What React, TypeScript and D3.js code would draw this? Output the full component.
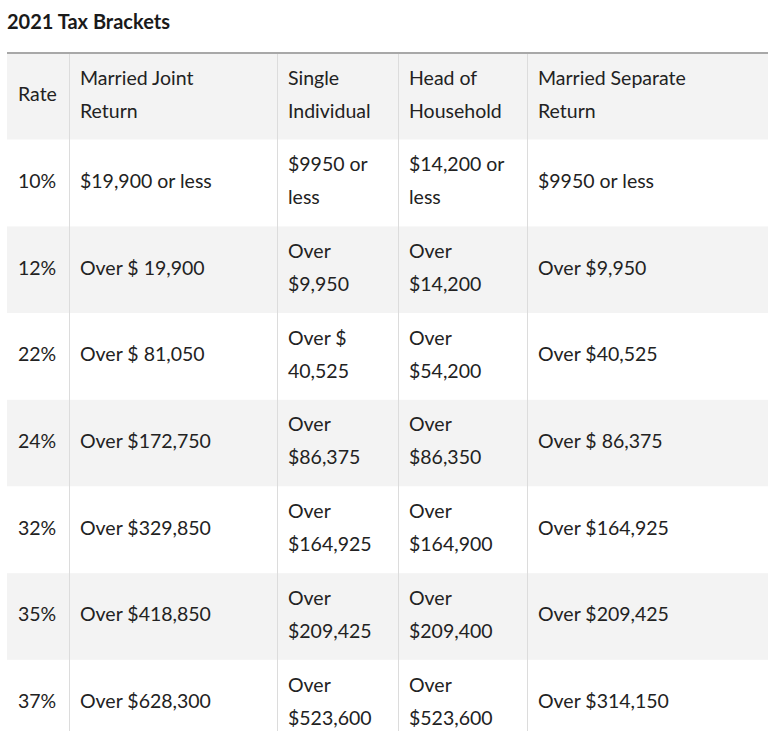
import React, { useEffect, useRef } from 'react';
import * as d3 from 'd3';

// table content ("\n" marks where the cell text wraps)
const title = '2021 Tax Brackets';
const headers = ['Rate', 'Married Joint\nReturn', 'Single\nIndividual', 'Head of\nHousehold', 'Married Separate\nReturn'];
const rates = ['10%', '12%', '22%', '24%', '32%', '35%', '37%'];
const marriedJoint = ['$19,900 or less', 'Over $ 19,900', 'Over $ 81,050', 'Over $172,750', 'Over $329,850', 'Over $418,850', 'Over $628,300'];
const singleIndividual = ['$9950 or\nless', 'Over\n$9,950', 'Over $\n40,525', 'Over\n$86,375', 'Over\n$164,925', 'Over\n$209,425', 'Over\n$523,600'];
const headOfHousehold = ['$14,200 or\nless', 'Over\n$14,200', 'Over\n$54,200', 'Over\n$86,350', 'Over\n$164,900', 'Over\n$209,400', 'Over\n$523,600'];
const marriedSeparate = ['$9950 or less', 'Over $9,950', 'Over $40,525', 'Over $ 86,375', 'Over $164,925', 'Over $209,425', 'Over $314,150'];

const App = () => {
  const ref = useRef<SVGSVGElement>(null);

  useEffect(() => {
    const svg = d3.select(ref.current);
    svg.selectAll('*').remove();

    const width = 768;
    const height = 731;
    const left = 7;
    const right = 768;
    const top = 53;
    const colEdges = [left, 69, 277, 398, 527, right];
    const fontFamily = 'Lato, "Noto Sans", sans-serif';
    const lineHeight = 33;

    const rows = rates.map((r, i) => [r, marriedJoint[i], singleIndividual[i], headOfHousehold[i], marriedSeparate[i]]);
    const allRows = [headers, ...rows];

    const y = d3
      .scaleBand<number>()
      .domain(d3.range(allRows.length))
      .range([top, top + 86.7 * allRows.length])
      .padding(0);

    svg.attr('width', width).attr('height', height);

    svg
      .append('text')
      .attr('x', left)
      .attr('y', 29)
      .attr('font-family', fontFamily)
      .attr('font-size', 20)
      .attr('font-weight', 700)
      .attr('fill', '#1a1a1a')
      .text(title);

    // row backgrounds
    svg
      .selectAll('rect.row')
      .data(allRows)
      .join('rect')
      .attr('class', 'row')
      .attr('x', left)
      .attr('y', (_, i) => y(i)!)
      .attr('width', right - left)
      .attr('height', y.bandwidth())
      .attr('fill', (_, i) => (i % 2 === 0 ? '#f3f3f3' : '#ffffff'));

    // column separators
    svg
      .selectAll('line.col')
      .data(colEdges.slice(1, -1))
      .join('line')
      .attr('class', 'col')
      .attr('x1', (d) => d + 0.5)
      .attr('x2', (d) => d + 0.5)
      .attr('y1', top)
      .attr('y2', height)
      .attr('stroke', '#dcdcdc')
      .attr('stroke-width', 1);

    svg
      .append('line')
      .attr('x1', left)
      .attr('x2', right)
      .attr('y1', top)
      .attr('y2', top)
      .attr('stroke', '#a8a8a8')
      .attr('stroke-width', 2);

    // cell text
    allRows.forEach((row, ri) => {
      const cy = y(ri)! + y.bandwidth() / 2 - 2;
      row.forEach((cell, ci) => {
        const lines = cell.split('\n');
        const t = svg
          .append('text')
          .attr('x', colEdges[ci] + 11)
          .attr('font-family', fontFamily)
          .attr('font-size', 19.5)
          .attr('fill', '#222');
        lines.forEach((ln, li) => {
          t.append('tspan')
            .attr('x', colEdges[ci] + 11)
            .attr('y', cy + (li - (lines.length - 1) / 2) * lineHeight)
            .attr('dy', '0.35em')
            .text(ln);
        });
      });
    });
  }, []);

  return <svg ref={ref} style={{ position: 'absolute', left: 0, top: 0 }} />;
};

export default App;
